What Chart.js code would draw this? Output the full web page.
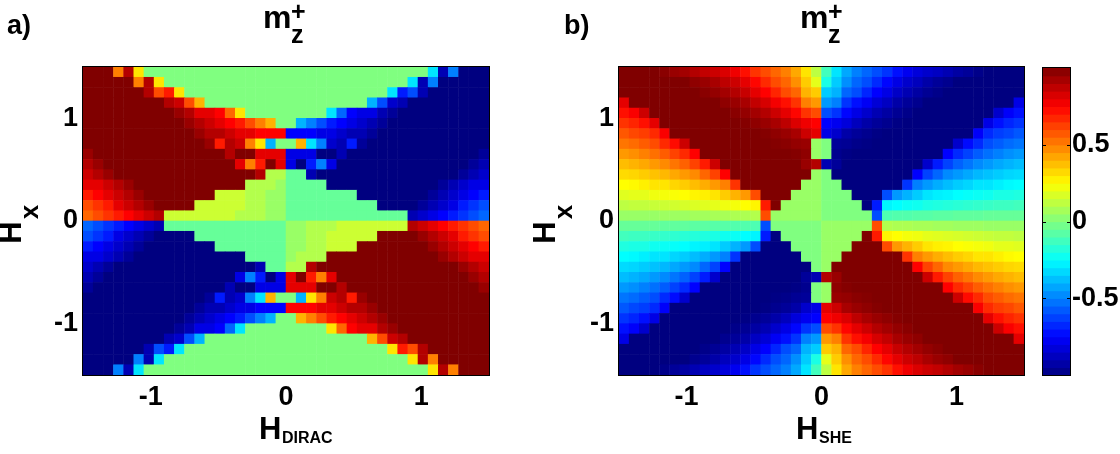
<!DOCTYPE html>
<html>
<head>
<meta charset="utf-8">
<script src="https://cdn.jsdelivr.net/npm/chart.js@4"></script>
<style>
  body { margin: 0; background: #fff; }
  #page { position: relative; width: 1120px; height: 454px; overflow: hidden; font-family: "Liberation Sans", Arial, sans-serif; font-weight: bold; color: #000; }
  canvas { position: absolute; top: 0; }
  .txt { position: absolute; white-space: nowrap; line-height: 1; }
</style>
</head>
<body>
<div id="page">
  <canvas id="chartA" width="520" height="454" style="left:0"></canvas>
  <canvas id="chartB" width="510" height="454" style="left:520px"></canvas>
  <canvas id="chartBar" width="90" height="454" style="left:1030px"></canvas>

  <span class="txt" style="left:7px;top:12px;font-size:27px">a)</span>
  <span class="txt" style="left:564px;top:12px;font-size:27px">b)</span>

  <span class="txt" style="left:263px;top:1px;font-size:32px">m</span>
  <span class="txt" style="left:291px;top:-1px;font-size:25px">+</span>
  <span class="txt" style="left:291px;top:22px;font-size:25px">z</span>
  <span class="txt" style="left:800px;top:1px;font-size:32px">m</span>
  <span class="txt" style="left:828px;top:-1px;font-size:25px">+</span>
  <span class="txt" style="left:828px;top:22px;font-size:25px">z</span>

  <span class="txt" style="left:259px;top:413px;font-size:31px">H</span>
  <span class="txt" style="left:282px;top:430px;font-size:16px">DIRAC</span>
  <span class="txt" style="left:796px;top:413px;font-size:31px">H</span>
  <span class="txt" style="left:819px;top:430px;font-size:16px">SHE</span>

  <span class="txt" style="left:-1px;top:217px;font-size:31px;transform:rotate(-90deg)">H</span>
  <span class="txt" style="left:22px;top:199px;font-size:26px;transform:rotate(-90deg)">x</span>
  <span class="txt" style="left:533px;top:217px;font-size:31px;transform:rotate(-90deg)">H</span>
  <span class="txt" style="left:556px;top:199px;font-size:26px;transform:rotate(-90deg)">x</span>
</div>

<script>
'use strict'

// cell centres of the two maps
const xCenters = [-1.4625,-1.3875,-1.3125,-1.2375,-1.1625,-1.0875,-1.0125,-.9375,-.8625,-.7875,-.7125,-.6375,-.5625,-.4875,-.4125,-.3375,-.2625,-.1875,-.1125,-.0375,
  .0375,.1125,.1875,.2625,.3375,.4125,.4875,.5625,.6375,.7125,.7875,.8625,.9375,1.0125,1.0875,1.1625,1.2375,1.3125,1.3875,1.4625];
const yCenters = [1.45,1.35,1.25,1.15,1.05,.95,.85,.75,.65,.55,.45,.35,.25,.15,.05,-.05,-.15,-.25,-.35,-.45,-.55,-.65,-.75,-.85,-.95,-1.05,-1.15,-1.25,-1.35,-1.45];

// tick labels
const xTicks = [-1, 0, 1];
const yTicks = [-1, 0, 1];
const barTicks = [-.5, 0, .5];

// colour bar levels
const barLevels = [-.975,-.925,-.875,-.825,-.775,-.725,-.675,-.625,-.575,-.525,-.475,-.425,-.375,-.325,-.275,-.225,-.175,-.125,-.075,-.025,
  .025,.075,.125,.175,.225,.275,.325,.375,.425,.475,.525,.575,.625,.675,.725,.775,.825,.875,.925,.975];

// m_z+ read off panel a), one row per yCenters entry
const diracRows = [
  [1,1,1,.5,.9,.3,0,0,0,0,0,0,0,0,0,0,0,0,0,0,0,0,0,0,0,0,0,0,0,0,0,0,0,0,-.3,-.9,-.5,-1,-1,-1],
  [1,1,1,1,1,.5,.9,.3,0,0,0,0,0,0,0,0,0,0,0,0,0,0,0,0,0,0,0,0,0,0,0,0,-.3,-.9,-.5,-1,-1,-1,-1,-1],
  [1,1,1,1,1,1,.9,.6,.7,.3,0,0,0,0,0,0,0,0,0,0,0,0,0,0,0,0,0,0,0,0,-.3,-.7,-.6,-.9,-1,-1,-1,-1,-1,-1],
  [1,1,1,1,1,1,1,1,.9,.85,.6,.4,0,0,0,0,0,0,0,0,0,0,0,0,0,0,0,0,-.4,-.6,-.85,-.9,-1,-1,-1,-1,-1,-1,-1,-1],
  [1,1,1,1,1,1,1,1,1,.95,.9,.8,.8,.75,.55,.3,0,0,0,0,0,0,0,0,-.3,-.55,-.75,-.8,-.8,-.9,-.95,-1,-1,-1,-1,-1,-1,-1,-1,-1],
  [1,1,1,1,1,1,1,1,1,1,.95,.9,.85,.8,.75,.7,.6,.5,.4,0,0,-.4,-.5,-.6,-.7,-.75,-.8,-.85,-.9,-.95,-1,-1,-1,-1,-1,-1,-1,-1,-1,-1],
  [1,1,1,1,1,1,1,1,1,1,1,.95,.9,.9,.85,.8,.8,.75,.75,.75,-.75,-.75,-.75,-.8,-.8,-.85,-.9,-.9,-.95,-1,-1,-1,-1,-1,-1,-1,-1,-1,-1,-1],
  [1,1,1,1,1,1,1,1,1,1,1,1,.95,.7,.9,.85,.5,.3,-.4,0,0,.4,-.3,-.5,-.85,-.9,-.7,-.95,-1,-1,-1,-1,-1,-1,-1,-1,-1,-1,-1,-1],
  [.95,1,1,1,1,1,1,1,1,1,1,1,1,1,.9,1,1,.8,.8,.8,-.8,-.8,-.8,-1,-1,-.9,-1,-1,-1,-1,-1,-1,-1,-1,-1,-1,-1,-1,-1,-.95],
  [.9,.95,1,1,1,1,1,1,1,1,1,1,1,1,1,.8,.5,.7,1,.8,-.8,-1,-.7,-.5,-.8,-1,-1,-1,-1,-1,-1,-1,-1,-1,-1,-1,-1,-1,-.95,-.9],
  [.85,.9,.95,1,1,1,1,1,1,1,1,1,1,1,1,1,1,.9,.1,.1,-.05,-.05,-.9,-1,-1,-1,-1,-1,-1,-1,-1,-1,-1,-1,-1,-1,-1,-.95,-.9,-.85],
  [.8,.8,.85,.9,.95,1,1,1,1,1,1,1,1,1,1,1,.1,.1,.1,.05,-.05,-.05,-.05,-.05,-1,-1,-1,-1,-1,-1,-1,-1,-1,-1,-1,-.95,-.9,-.85,-.8,-.8],
  [.7,.75,.8,.85,.9,.95,1,1,1,1,1,1,1,.15,.15,.15,.1,.1,.05,.05,-.05,-.05,-.05,-.05,-.05,-.05,-.05,-1,-1,-1,-1,-1,-1,-1,-.95,-.9,-.85,-.8,-.75,-.7],
  [.6,.65,.7,.8,.85,.9,.95,1,1,1,1,.15,.15,.15,.15,.15,.1,.1,.05,.05,-.05,-.05,-.05,-.05,-.05,-.05,-.05,-.05,-.05,-1,-1,-1,-1,-.95,-.9,-.85,-.8,-.7,-.65,-.6],
  [.55,.6,.65,.7,.75,.8,.85,.9,.15,.15,.15,.15,.15,.15,.15,.1,.1,.1,.05,.05,-.05,-.05,-.05,-.05,-.05,-.05,-.05,-.05,-.05,-.05,-.05,-.05,-.9,-.85,-.8,-.75,-.7,-.65,-.6,-.55],
  [-.55,-.6,-.65,-.7,-.75,-.8,-.85,-.9,-.05,-.05,-.05,-.05,-.05,-.05,-.05,-.05,-.05,-.05,-.05,-.05,.05,.05,.1,.1,.1,.15,.15,.15,.15,.15,.15,.15,.9,.85,.8,.75,.7,.65,.6,.55],
  [-.6,-.65,-.7,-.8,-.85,-.9,-.95,-1,-1,-1,-1,-.05,-.05,-.05,-.05,-.05,-.05,-.05,-.05,-.05,.05,.05,.1,.1,.15,.15,.15,.15,.15,1,1,1,1,.95,.9,.85,.8,.7,.65,.6],
  [-.7,-.75,-.8,-.85,-.9,-.95,-1,-1,-1,-1,-1,-1,-1,-.05,-.05,-.05,-.05,-.05,-.05,-.05,.05,.05,.1,.1,.15,.15,.15,1,1,1,1,1,1,1,.95,.9,.85,.8,.75,.7],
  [-.8,-.8,-.85,-.9,-.95,-1,-1,-1,-1,-1,-1,-1,-1,-1,-1,-1,-.05,-.05,-.05,-.05,.05,.1,.1,.1,1,1,1,1,1,1,1,1,1,1,1,.95,.9,.85,.8,.8],
  [-.85,-.9,-.95,-1,-1,-1,-1,-1,-1,-1,-1,-1,-1,-1,-1,-1,-1,-.9,-.05,-.05,.1,.1,.9,1,1,1,1,1,1,1,1,1,1,1,1,1,1,.95,.9,.85],
  [-.9,-.95,-1,-1,-1,-1,-1,-1,-1,-1,-1,-1,-1,-1,-1,-.8,-.5,-.7,-1,-.8,.8,1,.7,.5,.8,1,1,1,1,1,1,1,1,1,1,1,1,1,.95,.9],
  [-.95,-1,-1,-1,-1,-1,-1,-1,-1,-1,-1,-1,-1,-1,-.9,-1,-1,-.8,-.8,-.8,.8,.8,.8,1,1,.9,1,1,1,1,1,1,1,1,1,1,1,1,1,.95],
  [-1,-1,-1,-1,-1,-1,-1,-1,-1,-1,-1,-1,-.95,-.7,-.9,-.85,-.5,-.3,.4,0,0,-.4,.3,.5,.85,.9,.7,.95,1,1,1,1,1,1,1,1,1,1,1,1],
  [-1,-1,-1,-1,-1,-1,-1,-1,-1,-1,-1,-.95,-.9,-.9,-.85,-.8,-.8,-.75,-.75,-.75,.75,.75,.75,.8,.8,.85,.9,.9,.95,1,1,1,1,1,1,1,1,1,1,1],
  [-1,-1,-1,-1,-1,-1,-1,-1,-1,-1,-.95,-.9,-.85,-.8,-.75,-.7,-.6,-.5,-.4,0,0,.4,.5,.6,.7,.75,.8,.85,.9,.95,1,1,1,1,1,1,1,1,1,1],
  [-1,-1,-1,-1,-1,-1,-1,-1,-1,-.95,-.9,-.8,-.8,-.75,-.55,-.3,0,0,0,0,0,0,0,0,.3,.55,.75,.8,.8,.9,.95,1,1,1,1,1,1,1,1,1],
  [-1,-1,-1,-1,-1,-1,-1,-1,-.9,-.85,-.6,-.4,0,0,0,0,0,0,0,0,0,0,0,0,0,0,0,0,.4,.6,.85,.9,1,1,1,1,1,1,1,1],
  [-1,-1,-1,-1,-1,-1,-.9,-.6,-.7,-.3,0,0,0,0,0,0,0,0,0,0,0,0,0,0,0,0,0,0,0,0,.3,.7,.6,.9,1,1,1,1,1,1],
  [-1,-1,-1,-1,-1,-.5,-.9,-.3,0,0,0,0,0,0,0,0,0,0,0,0,0,0,0,0,0,0,0,0,0,0,0,0,.3,.9,.5,1,1,1,1,1],
  [-1,-1,-1,-.5,-.9,-.3,0,0,0,0,0,0,0,0,0,0,0,0,0,0,0,0,0,0,0,0,0,0,0,0,0,0,0,0,.3,.9,.5,1,1,1]
];

// m_z+ read off panel b)
const sheRows = [
  [1,1,1,1,.98,.95,.93,.9,.87,.85,.82,.78,.72,.65,.6,.55,.5,.42,.3,.12,-.12,-.3,-.42,-.5,-.55,-.6,-.65,-.72,-.78,-.82,-.85,-.87,-.9,-.93,-.95,-.98,-1,-1,-1,-1],
  [1,1,1,1,1,1,1,.97,.95,.92,.88,.85,.8,.74,.67,.6,.55,.47,.35,.2,-.2,-.35,-.47,-.55,-.6,-.67,-.74,-.8,-.85,-.88,-.92,-.95,-.97,-1,-1,-1,-1,-1,-1,-1],
  [1,1,1,1,1,1,1,1,.98,.96,.93,.9,.86,.8,.75,.68,.6,.55,.4,.35,-.35,-.4,-.55,-.6,-.68,-.75,-.8,-.86,-.9,-.93,-.96,-.98,-1,-1,-1,-1,-1,-1,-1,-1],
  [.8,1,1,1,1,1,1,1,1,1,.97,.95,.92,.87,.83,.77,.72,.65,.5,.45,-.45,-.5,-.65,-.72,-.77,-.83,-.87,-.92,-.95,-.97,-1,-1,-1,-1,-1,-1,-1,-1,-1,-.8],
  [.72,.76,.85,1,1,1,1,1,1,1,1,.98,.96,.93,.9,.85,.8,.74,.65,.6,-.6,-.65,-.74,-.8,-.85,-.9,-.93,-.96,-.98,-1,-1,-1,-1,-1,-1,-1,-1,-.85,-.76,-.72],
  [.65,.68,.72,.8,1,1,1,1,1,1,1,1,.99,.97,.95,.92,.88,.82,.78,.75,-.75,-.78,-.82,-.88,-.92,-.95,-.97,-.99,-1,-1,-1,-1,-1,-1,-1,-1,-.8,-.72,-.68,-.65],
  [.58,.61,.63,.67,.76,1,1,1,1,1,1,1,1,1,.99,.97,.95,.92,.85,.8,-.8,-.85,-.92,-.95,-.97,-.99,-1,-1,-1,-1,-1,-1,-1,-1,-1,-.76,-.67,-.63,-.61,-.58],
  [.52,.54,.57,.6,.67,.73,.85,1,1,1,1,1,1,1,1,.99,.98,.96,.95,.05,0,-.95,-.96,-.98,-.99,-1,-1,-1,-1,-1,-1,-1,-1,-.85,-.73,-.67,-.6,-.57,-.54,-.52],
  [.45,.47,.5,.53,.57,.62,.67,.75,1,1,1,1,1,1,1,1,1,.99,.97,.05,0,-.97,-.99,-1,-1,-1,-1,-1,-1,-1,-1,-1,-.75,-.67,-.62,-.57,-.53,-.5,-.47,-.45],
  [.38,.4,.42,.45,.48,.52,.56,.62,.7,.85,1,1,1,1,1,1,1,1,.95,.9,-.9,-.95,-1,-1,-1,-1,-1,-1,-1,-1,-.85,-.7,-.62,-.56,-.52,-.48,-.45,-.42,-.4,-.38],
  [.32,.33,.35,.37,.39,.42,.45,.48,.55,.62,.75,1,1,1,1,1,1,1,1,.05,0,-1,-1,-1,-1,-1,-1,-1,-1,-.75,-.62,-.55,-.48,-.45,-.42,-.39,-.37,-.35,-.33,-.32],
  [.25,.26,.28,.3,.3,.33,.35,.38,.41,.45,.5,.65,1,1,1,1,1,1,.05,.05,0,0,-1,-1,-1,-1,-1,-1,-.65,-.5,-.45,-.41,-.38,-.35,-.33,-.3,-.3,-.28,-.26,-.25],
  [.19,.2,.2,.22,.23,.24,.25,.27,.28,.3,.35,.4,.45,.6,1,1,1,.05,.05,.05,0,0,0,-1,-1,-1,-.6,-.45,-.4,-.35,-.3,-.28,-.27,-.25,-.24,-.23,-.22,-.2,-.2,-.19],
  [.12,.13,.13,.14,.15,.16,.17,.18,.19,.2,.22,.23,.25,.27,.7,1,.05,.05,.05,.05,0,0,0,0,-1,-.7,-.27,-.25,-.23,-.22,-.2,-.19,-.18,-.17,-.16,-.15,-.14,-.13,-.13,-.12],
  [.05,.05,.05,.05,.06,.06,.06,.07,.07,.08,.08,.09,.09,.1,.6,.05,.05,.05,.05,.05,0,0,0,0,0,-.6,-.1,-.09,-.09,-.08,-.08,-.07,-.07,-.06,-.06,-.06,-.05,-.05,-.05,-.05],
  [-.05,-.05,-.05,-.05,-.06,-.06,-.06,-.07,-.07,-.08,-.08,-.09,-.09,-.1,-.6,0,0,0,0,0,.05,.05,.05,.05,.05,.6,.1,.09,.09,.08,.08,.07,.07,.06,.06,.06,.05,.05,.05,.05],
  [-.12,-.13,-.13,-.14,-.15,-.16,-.17,-.18,-.19,-.2,-.22,-.23,-.25,-.27,-.7,-1,0,0,0,0,.05,.05,.05,.05,1,.7,.27,.25,.23,.22,.2,.19,.18,.17,.16,.15,.14,.13,.13,.12],
  [-.19,-.2,-.2,-.22,-.23,-.24,-.25,-.27,-.28,-.3,-.35,-.4,-.45,-.6,-1,-1,-1,0,0,0,.05,.05,.05,1,1,1,.6,.45,.4,.35,.3,.28,.27,.25,.24,.23,.22,.2,.2,.19],
  [-.25,-.26,-.28,-.3,-.3,-.33,-.35,-.38,-.41,-.45,-.5,-.65,-1,-1,-1,-1,-1,-1,0,0,.05,.05,1,1,1,1,1,1,.65,.5,.45,.41,.38,.35,.33,.3,.3,.28,.26,.25],
  [-.32,-.33,-.35,-.37,-.39,-.42,-.45,-.48,-.55,-.62,-.75,-1,-1,-1,-1,-1,-1,-1,-1,0,.05,1,1,1,1,1,1,1,1,.75,.62,.55,.48,.45,.42,.39,.37,.35,.33,.32],
  [-.38,-.4,-.42,-.45,-.48,-.52,-.56,-.62,-.7,-.85,-1,-1,-1,-1,-1,-1,-1,-1,-.95,-.9,.9,.95,1,1,1,1,1,1,1,1,.85,.7,.62,.56,.52,.48,.45,.42,.4,.38],
  [-.45,-.47,-.5,-.53,-.57,-.62,-.67,-.75,-1,-1,-1,-1,-1,-1,-1,-1,-1,-.99,-.97,0,.05,.97,.99,1,1,1,1,1,1,1,1,1,.75,.67,.62,.57,.53,.5,.47,.45],
  [-.52,-.54,-.57,-.6,-.67,-.73,-.85,-1,-1,-1,-1,-1,-1,-1,-1,-.99,-.98,-.96,-.95,0,.05,.95,.96,.98,.99,1,1,1,1,1,1,1,1,.85,.73,.67,.6,.57,.54,.52],
  [-.58,-.61,-.63,-.67,-.76,-1,-1,-1,-1,-1,-1,-1,-1,-1,-.99,-.97,-.95,-.92,-.85,-.8,.8,.85,.92,.95,.97,.99,1,1,1,1,1,1,1,1,1,.76,.67,.63,.61,.58],
  [-.65,-.68,-.72,-.8,-1,-1,-1,-1,-1,-1,-1,-1,-.99,-.97,-.95,-.92,-.88,-.82,-.78,-.75,.75,.78,.82,.88,.92,.95,.97,.99,1,1,1,1,1,1,1,1,.8,.72,.68,.65],
  [-.72,-.76,-.85,-1,-1,-1,-1,-1,-1,-1,-1,-.98,-.96,-.93,-.9,-.85,-.8,-.74,-.65,-.6,.6,.65,.74,.8,.85,.9,.93,.96,.98,1,1,1,1,1,1,1,1,.85,.76,.72],
  [-.8,-1,-1,-1,-1,-1,-1,-1,-1,-1,-.97,-.95,-.92,-.87,-.83,-.77,-.72,-.65,-.5,-.45,.45,.5,.65,.72,.77,.83,.87,.92,.95,.97,1,1,1,1,1,1,1,1,1,.8],
  [-1,-1,-1,-1,-1,-1,-1,-1,-.98,-.96,-.93,-.9,-.86,-.8,-.75,-.68,-.6,-.55,-.4,-.35,.35,.4,.55,.6,.68,.75,.8,.86,.9,.93,.96,.98,1,1,1,1,1,1,1,1],
  [-1,-1,-1,-1,-1,-1,-1,-.97,-.95,-.92,-.88,-.85,-.8,-.74,-.67,-.6,-.55,-.47,-.35,-.2,.2,.35,.47,.55,.6,.67,.74,.8,.85,.88,.92,.95,.97,1,1,1,1,1,1,1],
  [-1,-1,-1,-1,-.98,-.95,-.93,-.9,-.87,-.85,-.82,-.78,-.72,-.65,-.6,-.55,-.5,-.42,-.3,-.12,.12,.3,.42,.5,.55,.6,.65,.72,.78,.82,.85,.87,.9,.93,.95,.98,1,1,1,1]
];

Chart.defaults.font.family = '"Liberation Sans", Arial, sans-serif';
Chart.defaults.font.size = 27;
Chart.defaults.font.weight = 'bold';
Chart.defaults.color = '#000';

// same colour map as matlab jet, v runs from -1 to 1
function jet(v) {
  let t = (v + 1) / 2;
  let ch = (c) => Math.round(255 * Math.max(0, Math.min(1, 1.5 - Math.abs(4 * t - c))));
  return `rgb(${ch(3)},${ch(2)},${ch(1)})`;
}

// thin black box round the plot area
const framePlugin = {
  id: 'frame',
  afterDraw(chart) {
    let a = chart.chartArea;
    let ctx = chart.ctx;
    ctx.save();
    ctx.strokeStyle = '#000';
    ctx.lineWidth = 1;
    ctx.strokeRect(a.left - .5, a.top - .5, a.right - a.left + 1, a.bottom - a.top + 1);
    ctx.restore();
  }
};

// small inward ticks on both sides of the colour bar
const barTickPlugin = {
  id: 'barTick',
  afterDraw(chart) {
    let a = chart.chartArea;
    let ctx = chart.ctx;
    ctx.save();
    ctx.fillStyle = '#000';
    barTicks.forEach((v) => {
      let y = Math.round(chart.scales.y.getPixelForValue(v));
      ctx.fillRect(a.left, y, 3, 1);
      ctx.fillRect(a.right - 3, y, 3, 1);
    });
    ctx.restore();
  }
};

function makeMap(id, rows, leftSpace, rightSpace) {
  let cells = [];
  rows.forEach((row, r) => {
    row.forEach((v, c) => {
      // rows overlap a little so no white seams show
      cells.push({ x: xCenters[c], y: [yCenters[r] - .053, yCenters[r] + .053], v: v });
    });
  });

  return new Chart(document.getElementById(id), {
    type: 'bar',
    data: {
      datasets: [{
        data: cells,
        backgroundColor: (ctx) => jet(ctx.raw ? ctx.raw.v : 0),
        barPercentage: 1.05,
        categoryPercentage: 1,
        borderWidth: 0
      }]
    },
    options: {
      responsive: false,
      animation: false,
      layout: { padding: { top: 67, right: rightSpace } },
      plugins: { legend: { display: false }, tooltip: { enabled: false } },
      scales: {
        x: {
          type: 'linear',
          offset: false,
          min: -1.5,
          max: 1.5,
          grid: { display: false, drawTicks: false, offset: false },
          border: { display: false },
          ticks: { padding: 6, maxRotation: 0, autoSkip: false },
          afterBuildTicks: (s) => { s.ticks = xTicks.map((v) => ({ value: v })); },
          afterFit: (s) => { s.height = 79; }
        },
        y: {
          min: -1.5,
          max: 1.5,
          grid: { display: false, drawTicks: false },
          border: { display: false },
          ticks: { padding: 5, autoSkip: false },
          afterBuildTicks: (s) => { s.ticks = yTicks.map((v) => ({ value: v })); },
          afterFit: (s) => { s.width = leftSpace; }
        }
      }
    },
    plugins: [framePlugin]
  });
}

makeMap('chartA', diracRows, 83, 31);
makeMap('chartB', sheRows, 99, 6);

// colour bar on its own small chart
new Chart(document.getElementById('chartBar'), {
  type: 'bar',
  data: {
    datasets: [{
      data: barLevels.map((v) => ({ x: 0, y: [v - .027, v + .027], v: v })),
      backgroundColor: (ctx) => jet(ctx.raw ? ctx.raw.v : 0),
      barPercentage: 1,
      categoryPercentage: 1,
      borderWidth: 0
    }]
  },
  options: {
    responsive: false,
    animation: false,
    layout: { padding: { top: 68, bottom: 79, left: 13 } },
    plugins: { legend: { display: false }, tooltip: { enabled: false } },
    scales: {
      x: { type: 'linear', offset: false, min: -.5, max: .5, display: false },
      y: {
        position: 'right',
        min: -1,
        max: 1,
        grid: { display: false, drawTicks: false },
        border: { display: false },
        ticks: { padding: 2, autoSkip: false, callback: (v) => String(v) },
        afterBuildTicks: (s) => { s.ticks = barTicks.map((v) => ({ value: v })); },
        afterFit: (s) => { s.width = 50; }
      }
    }
  },
  plugins: [framePlugin, barTickPlugin]
});
</script>
</body>
</html>
